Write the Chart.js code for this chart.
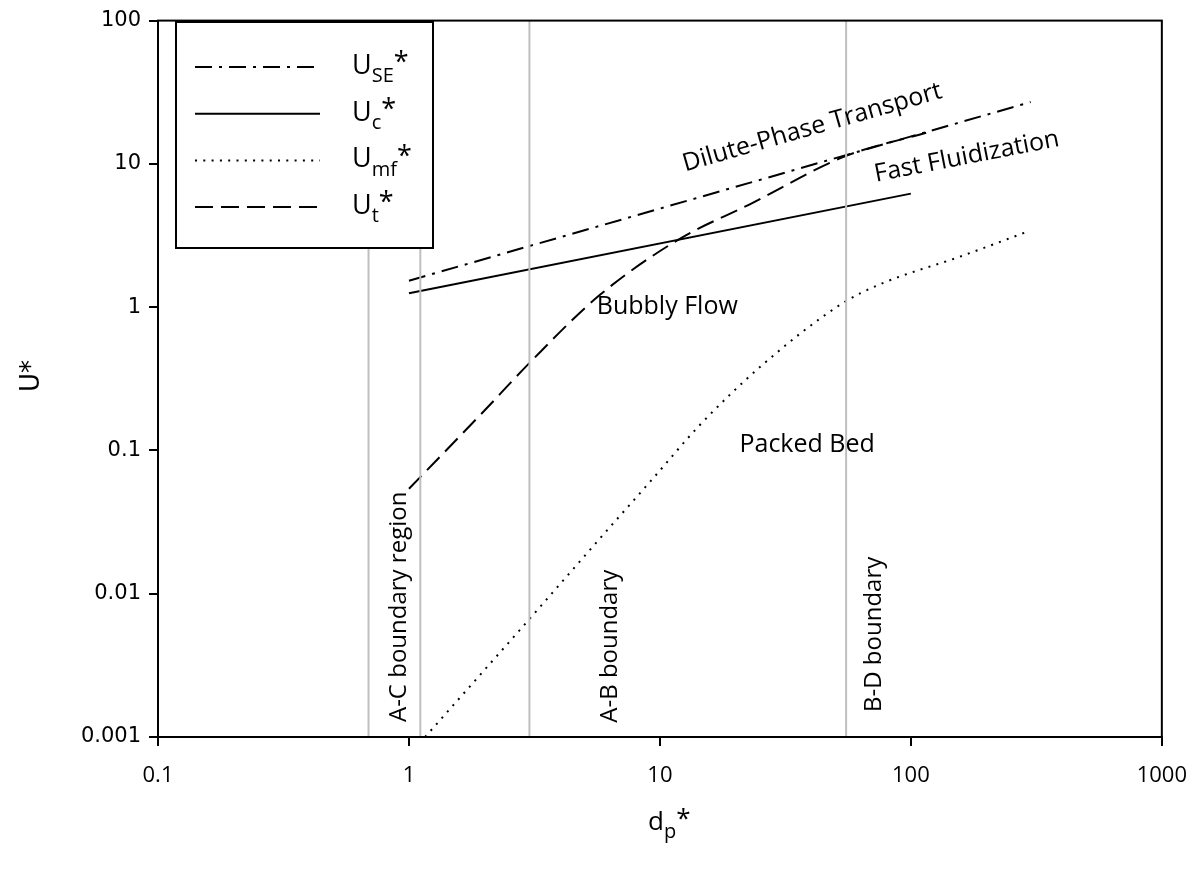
<!DOCTYPE html>
<html lang="en">
<head>
  <meta charset="UTF-8">
  <title>Fluidization regime map</title>
  <script src="https://cdn.jsdelivr.net/npm/chart.js"></script>
  <style>
    body { margin: 0; background: #fff; }
    #wrap { width: 1204px; height: 873px; }
  </style>
</head>
<body>
  <div id="wrap"><canvas id="regimeChart"></canvas></div>

  <script>
    // tick values
    const xTicks = [0.1, 1, 10, 100, 1000];
    const yTicks = [0.001, 0.01, 0.1, 1, 10, 100];

    // U_SE* (dash-dot)
    const dpUse = [1, 300];
    const uUse = [1.53, 27];

    // U_c* (solid)
    const dpUc = [1, 100];
    const uUc = [1.25, 6.2];

    // U_mf* (dotted)
    const dpUmf = [1.16, 3.03, 5.85, 9.33, 14.4, 25.6, 53.2, 75, 160, 296];
    const uUmf = [0.001, 0.0067, 0.025, 0.063, 0.15, 0.395, 1.06, 1.44, 2.28, 3.4];

    // U_t* (dashed)
    const dpUt = [1, 2, 3.03, 5.74, 12, 22.7, 54, 115];
    const uUt = [0.054, 0.19, 0.41, 1.21, 3.0, 5.2, 11.2, 16.5];

    // grey boundary lines
    const boundaryDp = [0.69, 1.11, 3.02, 55.2];

    // region / boundary labels: text, dp, U, angle in degrees
    const regionLabels = [
      { text: 'Dilute-Phase Transport', dp: 40.5, u: 17.9, angle: -16 },
      { text: 'Fast Fluidization', dp: 167, u: 11.2, angle: -11 },
      { text: 'Bubbly Flow', dp: 10.7, u: 1.0, angle: 0 },
      { text: 'Packed Bed', dp: 38.6, u: 0.11, angle: 0 },
      { text: 'A-C boundary region', dp: 0.91, u: 0.0081, angle: -90 },
      { text: 'A-B boundary', dp: 6.35, u: 0.0043, angle: -90 },
      { text: 'B-D boundary', dp: 71.4, u: 0.0052, angle: -90 }
    ];

    const FONT = '"Open Sans", "Noto Sans", sans-serif';
    const WIDE_FONT = '"DejaVu Sans", Verdana, sans-serif';
    const DASH_DOT = [17, 7, 3, 7];
    const DASHED = [18, 8];
    const DOTTED = [2, 6.3];

    function pts(xs, ys) {
      return xs.map((x, i) => ({ x: x, y: ys[i] }));
    }

    const datasets = [];
    boundaryDp.forEach(v => {
      datasets.push({
        data: [{ x: v, y: 0.001 }, { x: v, y: 100 }],
        borderColor: '#bfbfbf', borderWidth: 2, pointRadius: 0
      });
    });
    datasets.push({ label: 'Umf', data: pts(dpUmf, uUmf), borderColor: '#000', borderWidth: 2,
      borderDash: DOTTED, pointRadius: 0, cubicInterpolationMode: 'monotone' });
    datasets.push({ label: 'Ut', data: pts(dpUt, uUt), borderColor: '#000', borderWidth: 2,
      borderDash: DASHED, pointRadius: 0, cubicInterpolationMode: 'monotone' });
    datasets.push({ label: 'Uc', data: pts(dpUc, uUc), borderColor: '#000', borderWidth: 2,
      pointRadius: 0 });
    datasets.push({ label: 'Use', data: pts(dpUse, uUse), borderColor: '#000', borderWidth: 2,
      borderDash: DASH_DOT, pointRadius: 0 });

    // text with subscript and trailing asterisk
    function subText(ctx, x, y, main, sub, size) {
      ctx.font = size + 'px ' + FONT;
      ctx.fillText(main, x, y);
      x += ctx.measureText(main).width;
      ctx.font = Math.round(size * 0.75) + 'px ' + FONT;
      ctx.fillText(sub, x, y + size * 0.3);
      x += ctx.measureText(sub).width;
      ctx.font = size + 'px ' + FONT;
      ctx.fillText('*', x, y - size * 0.1);
    }

    const decorations = {
      id: 'decorations',
      afterDraw(chart) {
        const ctx = chart.ctx;
        const a = chart.chartArea;
        const xs = chart.scales.x, ys = chart.scales.y;
        ctx.save();

        // frame
        ctx.strokeStyle = '#000';
        ctx.lineWidth = 2;
        ctx.strokeRect(a.left, a.top, a.right - a.left, a.bottom - a.top);

        // labels
        ctx.fillStyle = '#000';
        ctx.textAlign = 'center';
        ctx.textBaseline = 'middle';
        regionLabels.forEach(l => {
          ctx.save();
          ctx.font = (l.angle === -90 ? 24 : 25) + 'px ' + FONT;
          ctx.translate(xs.getPixelForValue(l.dp), ys.getPixelForValue(l.u));
          ctx.rotate(l.angle * Math.PI / 180);
          ctx.fillText(l.text, 0, 0);
          ctx.restore();
        });

        // y axis title U*
        ctx.save();
        ctx.font = '26px ' + WIDE_FONT;
        ctx.translate(32, 376);
        ctx.rotate(-Math.PI / 2);
        ctx.fillText('U*', 0, 0);
        ctx.restore();

        // x axis title d_p*
        ctx.textAlign = 'left';
        ctx.textBaseline = 'alphabetic';
        subText(ctx, 648, 830, 'd', 'p', 26);

        // legend
        const lx = 176, ly = 22, lw = 257, lh = 226;
        ctx.fillStyle = '#fff';
        ctx.fillRect(lx, ly, lw, lh);
        ctx.lineWidth = 2;
        ctx.strokeStyle = '#000';
        ctx.strokeRect(lx, ly, lw, lh);
        const entries = [
          { main: 'U', sub: 'SE', dash: DASH_DOT },
          { main: 'U', sub: 'c', dash: [] },
          { main: 'U', sub: 'mf', dash: DOTTED },
          { main: 'U', sub: 't', dash: DASHED }
        ];
        entries.forEach((e, i) => {
          const yy = 67 + i * 46.7;
          ctx.setLineDash(e.dash);
          ctx.beginPath();
          ctx.moveTo(195, yy);
          ctx.lineTo(320, yy);
          ctx.stroke();
          ctx.setLineDash([]);
          ctx.fillStyle = '#000';
          subText(ctx, 352, yy + 7, e.main, e.sub, 27);
        });
        ctx.restore();
      }
    };

    new Chart(document.getElementById('regimeChart'), {
      type: 'line',
      data: { datasets: datasets },
      options: {
        responsive: true,
        maintainAspectRatio: false,
        animation: false,
        layout: { padding: { top: 15, right: 41, left: 0, bottom: 0 } },
        plugins: { legend: { display: false }, tooltip: { enabled: false } },
        scales: {
          x: {
            type: 'logarithmic',
            min: 0.1, max: 1000,
            afterBuildTicks: s => { s.ticks = xTicks.map(v => ({ value: v })); },
            afterFit: s => { s.height = 136; },
            ticks: { callback: v => String(v), color: '#000', font: { family: FONT, size: 22 },
              padding: 17, maxRotation: 0, autoSkip: false },
            grid: { drawOnChartArea: false, color: '#000', lineWidth: 2, tickLength: 9 },
            border: { color: '#000', width: 2 }
          },
          y: {
            type: 'logarithmic',
            min: 0.001, max: 100,
            afterBuildTicks: s => { s.ticks = yTicks.map(v => ({ value: v })); },
            afterFit: s => { s.width = 158; },
            ticks: { callback: v => String(v), color: '#000', font: { family: WIDE_FONT, size: 21 },
              padding: 8, autoSkip: false },
            grid: { drawOnChartArea: false, color: '#000', lineWidth: 2, tickLength: 9 },
            border: { color: '#000', width: 2 }
          }
        }
      },
      plugins: [decorations]
    });
  </script>
</body>
</html>
